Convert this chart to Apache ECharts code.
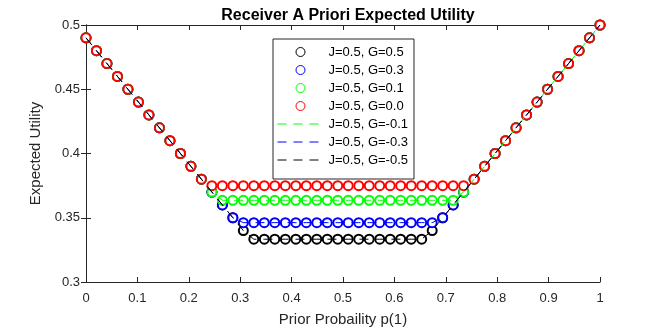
<!DOCTYPE html>
<html>
<head>
<meta charset="utf-8">
<script src="https://cdn.jsdelivr.net/npm/echarts@6/dist/echarts.min.js"></script>
<style>
html, body { margin: 0; padding: 0; background: #fff; }
#main { width: 664px; height: 332px; }
</style>
</head>
<body>
<div id="main"></div>
<script>
// prior p(1) grid (50 points)
var probX = [0, 0.0204, 0.0408, 0.0612, 0.0816, 0.1020, 0.1224, 0.1429, 0.1633, 0.1837,
  0.2041, 0.2245, 0.2449, 0.2653, 0.2857, 0.3061, 0.3265, 0.3469, 0.3673, 0.3878,
  0.4082, 0.4286, 0.4490, 0.4694, 0.4898, 0.5102, 0.5306, 0.5510, 0.5714, 0.5918,
  0.6122, 0.6327, 0.6531, 0.6735, 0.6939, 0.7143, 0.7347, 0.7551, 0.7755, 0.7959,
  0.8163, 0.8367, 0.8571, 0.8776, 0.8980, 0.9184, 0.9388, 0.9592, 0.9796, 1];

// expected utility, markers
var utilG05 = [0.49, 0.48, 0.47, 0.46, 0.45, 0.44, 0.43, 0.42, 0.41, 0.40,
  0.39, 0.38, 0.37, 0.36, 0.35, 0.34, 0.3333, 0.3333, 0.3333, 0.3333,
  0.3333, 0.3333, 0.3333, 0.3333, 0.3333, 0.3333, 0.3333, 0.3333, 0.3333, 0.3333,
  0.3333, 0.3333, 0.3333, 0.34, 0.35, 0.36, 0.37, 0.38, 0.39, 0.40,
  0.41, 0.42, 0.43, 0.44, 0.45, 0.46, 0.47, 0.48, 0.49, 0.50];
var utilG03 = [0.49, 0.48, 0.47, 0.46, 0.45, 0.44, 0.43, 0.42, 0.41, 0.40,
  0.39, 0.38, 0.37, 0.36, 0.35, 0.3462, 0.3462, 0.3462, 0.3462, 0.3462,
  0.3462, 0.3462, 0.3462, 0.3462, 0.3462, 0.3462, 0.3462, 0.3462, 0.3462, 0.3462,
  0.3462, 0.3462, 0.3462, 0.3462, 0.35, 0.36, 0.37, 0.38, 0.39, 0.40,
  0.41, 0.42, 0.43, 0.44, 0.45, 0.46, 0.47, 0.48, 0.49, 0.50];
var utilG01 = [0.49, 0.48, 0.47, 0.46, 0.45, 0.44, 0.43, 0.42, 0.41, 0.40,
  0.39, 0.38, 0.37, 0.3636, 0.3636, 0.3636, 0.3636, 0.3636, 0.3636, 0.3636,
  0.3636, 0.3636, 0.3636, 0.3636, 0.3636, 0.3636, 0.3636, 0.3636, 0.3636, 0.3636,
  0.3636, 0.3636, 0.3636, 0.3636, 0.3636, 0.3636, 0.37, 0.38, 0.39, 0.40,
  0.41, 0.42, 0.43, 0.44, 0.45, 0.46, 0.47, 0.48, 0.49, 0.50];
var utilG00 = [0.49, 0.48, 0.47, 0.46, 0.45, 0.44, 0.43, 0.42, 0.41, 0.40,
  0.39, 0.38, 0.375, 0.375, 0.375, 0.375, 0.375, 0.375, 0.375, 0.375,
  0.375, 0.375, 0.375, 0.375, 0.375, 0.375, 0.375, 0.375, 0.375, 0.375,
  0.375, 0.375, 0.375, 0.375, 0.375, 0.375, 0.375, 0.38, 0.39, 0.40,
  0.41, 0.42, 0.43, 0.44, 0.45, 0.46, 0.47, 0.48, 0.49, 0.50];

// dashed lines (negative G) - sit on top of the matching markers
var utilGm01 = [0.49, 0.48, 0.47, 0.46, 0.45, 0.44, 0.43, 0.42, 0.41, 0.40,
  0.39, 0.38, 0.37, 0.3636, 0.3636, 0.3636, 0.3636, 0.3636, 0.3636, 0.3636,
  0.3636, 0.3636, 0.3636, 0.3636, 0.3636, 0.3636, 0.3636, 0.3636, 0.3636, 0.3636,
  0.3636, 0.3636, 0.3636, 0.3636, 0.3636, 0.3636, 0.37, 0.38, 0.39, 0.40,
  0.41, 0.42, 0.43, 0.44, 0.45, 0.46, 0.47, 0.48, 0.49, 0.50];
var utilGm03 = [0.49, 0.48, 0.47, 0.46, 0.45, 0.44, 0.43, 0.42, 0.41, 0.40,
  0.39, 0.38, 0.37, 0.36, 0.35, 0.3462, 0.3462, 0.3462, 0.3462, 0.3462,
  0.3462, 0.3462, 0.3462, 0.3462, 0.3462, 0.3462, 0.3462, 0.3462, 0.3462, 0.3462,
  0.3462, 0.3462, 0.3462, 0.3462, 0.35, 0.36, 0.37, 0.38, 0.39, 0.40,
  0.41, 0.42, 0.43, 0.44, 0.45, 0.46, 0.47, 0.48, 0.49, 0.50];
var utilGm05 = [0.49, 0.48, 0.47, 0.46, 0.45, 0.44, 0.43, 0.42, 0.41, 0.40,
  0.39, 0.38, 0.37, 0.36, 0.35, 0.34, 0.3333, 0.3333, 0.3333, 0.3333,
  0.3333, 0.3333, 0.3333, 0.3333, 0.3333, 0.3333, 0.3333, 0.3333, 0.3333, 0.3333,
  0.3333, 0.3333, 0.3333, 0.34, 0.35, 0.36, 0.37, 0.38, 0.39, 0.40,
  0.41, 0.42, 0.43, 0.44, 0.45, 0.46, 0.47, 0.48, 0.49, 0.50];

var xTicks = [0, 0.1, 0.2, 0.3, 0.4, 0.5, 0.6, 0.7, 0.8, 0.9, 1];
var yTicks = [0.3, 0.35, 0.4, 0.45, 0.5];

var font = '"Liberation Sans", Arial, Helvetica, sans-serif';
var axisCol = '#262626';

function pairs(ys) {
  return probX.map(function (x, i) { return [x, ys[i]]; });
}

function markerSeries(name, ys, col) {
  return {
    name: name,
    type: 'scatter',
    data: pairs(ys),
    symbol: 'emptyCircle',
    symbolSize: 9,
    clip: false,
    itemStyle: { color: col, borderColor: col, borderWidth: 1, opacity: 1 },
    emphasis: { disabled: true },
    silent: true
  };
}

function dashSeries(name, ys, col) {
  return {
    name: name,
    type: 'line',
    data: pairs(ys),
    symbol: 'none',
    lineStyle: { color: col, width: 1, type: [9, 7] },
    itemStyle: { color: col },
    emphasis: { disabled: true },
    silent: true
  };
}

// legend entries: circles for markers, bare dashed line for the rest
function circleItem(name, col) {
  return { name: name, icon: 'circle', itemStyle: { color: '#fff', borderColor: col, borderWidth: 1 } };
}
function dashItem(name, col) {
  return {
    name: name,
    itemStyle: { color: 'rgba(0,0,0,0)', borderColor: 'rgba(0,0,0,0)', borderWidth: 0 },
    lineStyle: { color: col, width: 1, type: [9, 7], opacity: 1 }
  };
}

var myChart = echarts.init(document.getElementById('main'));

var option = {
  animation: false,
  backgroundColor: '#fff',
  title: {
    text: 'Receiver A Priori Expected Utility',
    left: 343,
    top: 3,
    textAlign: 'center',
    textStyle: { fontFamily: font, fontSize: 16, fontWeight: 'bold', color: '#000' }
  },
  legend: {
    orient: 'vertical',
    left: 273,
    top: 39,
    padding: [6, 6, 12, 4],
    itemWidth: 46,
    itemHeight: 9,
    itemGap: 4,
    backgroundColor: '#fff',
    borderColor: axisCol,
    borderWidth: 1,
    textStyle: { fontFamily: font, fontSize: 13, lineHeight: 14, color: '#000' },
    data: [
      circleItem('J=0.5, G=0.5', '#000000'),
      circleItem('J=0.5, G=0.3', '#0000ff'),
      circleItem('J=0.5, G=0.1', '#00ff00'),
      circleItem('J=0.5, G=0.0', '#ff0000'),
      dashItem('J=0.5, G=-0.1', '#00ff00'),
      dashItem('J=0.5, G=-0.3', '#0000ff'),
      dashItem('J=0.5, G=-0.5', '#000000')
    ]
  },
  grid: {
    left: 86,
    right: 64,
    top: 25,
    bottom: 48
  },
  xAxis: [{
    type: 'value',
    min: xTicks[0],
    max: xTicks[xTicks.length - 1],
    interval: 0.1,
    name: 'Prior Probaility p(1)',
    nameLocation: 'middle',
    nameGap: 30,
    nameTextStyle: { fontFamily: font, fontSize: 15, color: axisCol },
    axisLine: { lineStyle: { color: axisCol, width: 1 } },
    axisTick: { inside: true, length: 5, lineStyle: { color: axisCol } },
    axisLabel: { fontFamily: font, fontSize: 13, color: axisCol, margin: 10 },
    splitLine: { show: false }
  }, {
    type: 'value',
    position: 'top',
    min: xTicks[0],
    max: xTicks[xTicks.length - 1],
    interval: 0.1,
    axisLine: { lineStyle: { color: axisCol, width: 1 } },
    axisTick: { inside: true, length: 5, lineStyle: { color: axisCol } },
    axisLabel: { show: false },
    splitLine: { show: false }
  }],
  yAxis: [{
    type: 'value',
    min: yTicks[0],
    max: yTicks[yTicks.length - 1],
    interval: 0.05,
    name: 'Expected Utility',
    nameLocation: 'middle',
    nameGap: 40,
    nameTextStyle: { fontFamily: font, fontSize: 15, color: axisCol },
    axisLine: { show: true, lineStyle: { color: axisCol, width: 1 } },
    axisTick: { show: true, inside: true, length: 5, lineStyle: { color: axisCol } },
    axisLabel: { fontFamily: font, fontSize: 13, color: axisCol, margin: 6 },
    splitLine: { show: false }
  }, {
    type: 'value',
    position: 'right',
    min: yTicks[0],
    max: yTicks[yTicks.length - 1],
    interval: 0.05,
    axisLine: { show: true, lineStyle: { color: axisCol, width: 1 } },
    axisTick: { show: true, inside: true, length: 5, lineStyle: { color: axisCol } },
    axisLabel: { show: false },
    splitLine: { show: false }
  }],
  series: [
    markerSeries('J=0.5, G=0.5', utilG05, '#000000'),
    markerSeries('J=0.5, G=0.3', utilG03, '#0000ff'),
    markerSeries('J=0.5, G=0.1', utilG01, '#00ff00'),
    markerSeries('J=0.5, G=0.0', utilG00, '#ff0000'),
    dashSeries('J=0.5, G=-0.1', utilGm01, '#00ff00'),
    dashSeries('J=0.5, G=-0.3', utilGm03, '#0000ff'),
    dashSeries('J=0.5, G=-0.5', utilGm05, '#000000')
  ]
};

myChart.setOption(option);
</script>
</body>
</html>
